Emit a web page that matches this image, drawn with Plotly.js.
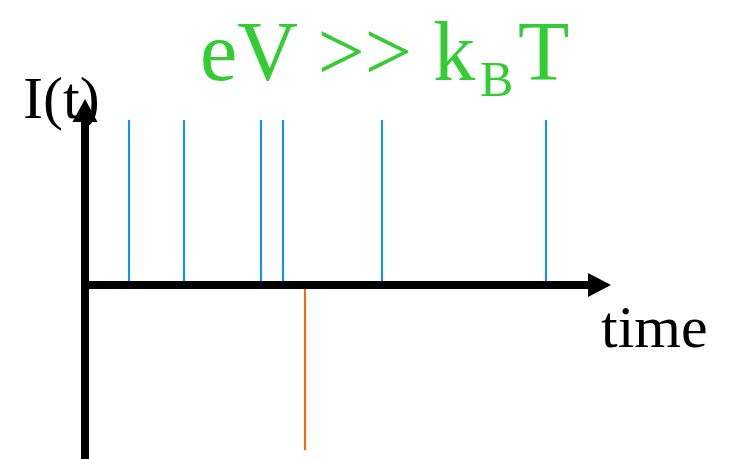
<!DOCTYPE html>
<html>
<head>
<meta charset="utf-8">
<script src="https://cdn.plot.ly/plotly-3.0.1.min.js"></script>
<style>
  html, body { margin: 0; padding: 0; background: #ffffff; }
  #chart { width: 731px; height: 459px; }
</style>
</head>
<body>
<div id="chart"></div>
<script>
// Tunnelling events in the high-bias regime: forward transfers (positive pulses)
// and a single backward transfer (negative pulse) along the time axis.
const forwardTimes = [0.44, 0.99, 1.76, 1.98, 2.97, 4.61];
const forwardAmplitude = 1;
const backwardTimes = [2.20];
const backwardAmplitude = -1;

const titleMain = 'eV >> k';
const titleSub = 'B';
const titleTail = 'T';
const yLabel = 'I(t)';
const xLabel = 'time';

// Turn event times into vertical pulse segments from zero to the amplitude
function pulses(times, amp) {
  const xs = [], ys = [];
  times.forEach(t => { xs.push(t, t, null); ys.push(0, amp, null); });
  return { xs, ys };
}

const fwd = pulses(forwardTimes, forwardAmplitude);
const bwd = pulses(backwardTimes, backwardAmplitude);

const traces = [
  { x: fwd.xs, y: fwd.ys, type: 'scatter', mode: 'lines',
    line: { color: '#0099FF', width: 2 }, hoverinfo: 'skip', showlegend: false },
  { x: bwd.xs, y: bwd.ys, type: 'scatter', mode: 'lines',
    line: { color: '#FF6600', width: 2 }, hoverinfo: 'skip', showlegend: false }
];

const W = 731, H = 459;
const px = x => x / W;
const py = y => 1 - y / H;
const serif = '"Liberation Serif", "Times New Roman", serif';

const layout = {
  width: W, height: H,
  margin: { l: 0, r: 0, t: 0, b: 0 },
  paper_bgcolor: '#ffffff', plot_bgcolor: '#ffffff',
  xaxis: { range: [-0.85, 6.46], visible: false, fixedrange: true },
  yaxis: { range: [-1.0545, 1.7273], visible: false, fixedrange: true },
  shapes: [
    // time axis with arrow head
    { type: 'line', x0: -0.04, x1: 5.06, y0: 0, y1: 0, layer: 'above',
      line: { color: '#000000', width: 8 } },
    { type: 'path', path: 'M 5.03 0.0727 L 5.26 0 L 5.03 -0.0727 Z', layer: 'above',
      fillcolor: '#000000', line: { color: '#000000', width: 0 } },
    // current axis with arrow head
    { type: 'line', x0: 0, x1: 0, y0: -1.2, y1: 1.0, layer: 'above',
      line: { color: '#000000', width: 8 } },
    { type: 'path', path: 'M -0.125 0.988 L 0 1.127 L 0.125 0.988 Z', layer: 'above',
      fillcolor: '#000000', line: { color: '#000000', width: 0 } }
  ],
  annotations: [
    { xref: 'paper', yref: 'paper', x: px(61), y: py(98), xanchor: 'center', yanchor: 'middle',
      text: yLabel, showarrow: false, font: { family: serif, size: 60, color: '#000000' } },
    { xref: 'paper', yref: 'paper', x: px(654), y: py(327), xanchor: 'center', yanchor: 'middle',
      text: xLabel, showarrow: false, font: { family: serif, size: 60, color: '#000000' } },
    { xref: 'paper', yref: 'paper', x: px(477), y: py(51), xanchor: 'right', yanchor: 'middle',
      text: titleMain, showarrow: false, font: { family: serif, size: 84, color: '#33CC33' } },
    { xref: 'paper', yref: 'paper', x: px(496), y: py(79), xanchor: 'center', yanchor: 'middle',
      text: titleSub, showarrow: false, font: { family: serif, size: 50, color: '#33CC33' } },
    { xref: 'paper', yref: 'paper', x: px(516), y: py(51), xanchor: 'left', yanchor: 'middle',
      text: titleTail, showarrow: false, font: { family: serif, size: 84, color: '#33CC33' } }
  ]
};

Plotly.newPlot('chart', traces, layout, { displayModeBar: false, staticPlot: true });
</script>
</body>
</html>
